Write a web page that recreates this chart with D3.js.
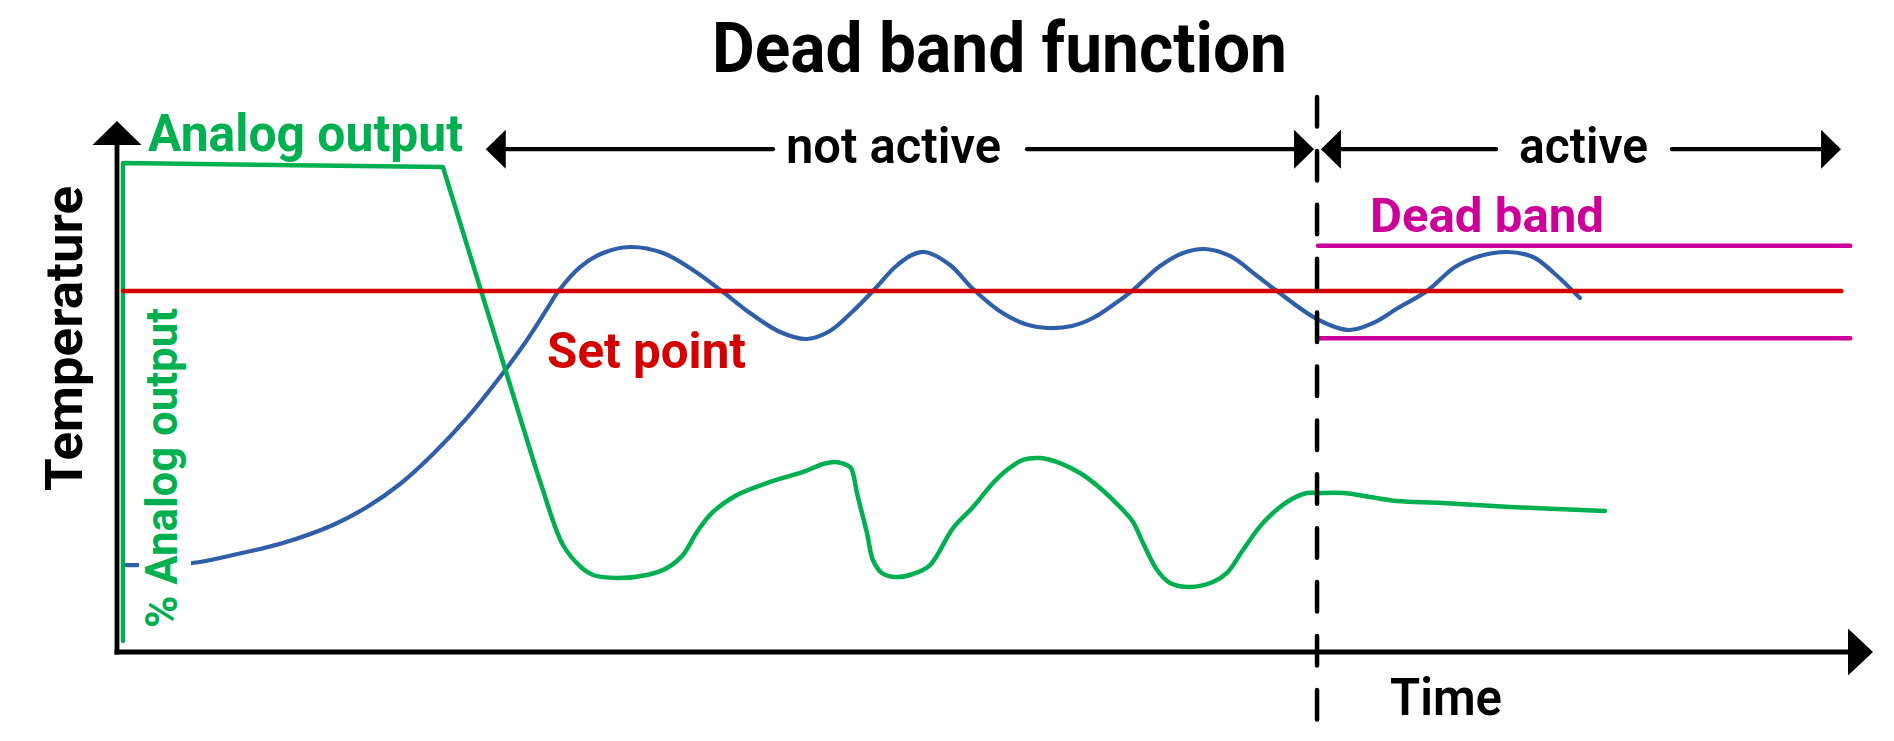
<!DOCTYPE html>
<html><head><meta charset="utf-8">
<script src="https://cdn.jsdelivr.net/npm/d3@7"></script>
<style>html,body{margin:0;padding:0;background:#fff;} svg{display:block;}</style>
</head><body><svg id="chart" width="1894" height="741"></svg>
<script>
// ---------- data ----------
const titleText = "Dead band function";
const xAxisLabel = "Time";
const yAxisLabel = "Temperature";
const outputAxisLabel = "% Analog output";
const outputLabel = "Analog output";
const setPointLabel = "Set point";
const deadBandLabel = "Dead band";

const phaseLabels = ["not active", "active"];
const phaseStart = [21.0, 68.56];
const phaseEnd = [68.17, 98.18];
const phaseLevel = 94.7;
const switchTime = 68.34;

const setPoint = 68.0;
const setPointRange = [0.34, 98.2];
const deadBand = [76.5, 59.1];
const deadBandRange = [68.4, 98.7];

const tempTime = [0.34, 4.27, 6.61, 9.45, 12.30, 14.24, 16.12, 18.00, 19.93, 21.81, 23.35, 24.49, 25.06, 26.37, 27.68, 29.21, 31.09, 32.80, 34.51, 36.05, 37.76, 39.29, 40.60, 41.86, 43.05, 44.31, 45.27, 46.01, 47.44, 48.69, 50.34, 51.71, 53.02, 54.38, 55.58, 56.72, 57.86, 59.40, 60.71, 61.96, 63.38, 64.86, 66.06, 68.34, 70.16, 71.53, 72.95, 74.60, 76.20, 77.62, 79.16, 80.64, 81.83, 83.31];
const tempValue = [16.38, 16.76, 18.27, 20.53, 23.92, 27.31, 31.64, 37.29, 44.07, 51.79, 58.76, 64.60, 67.61, 72.50, 75.14, 76.27, 75.14, 71.94, 67.80, 63.84, 60.26, 58.95, 60.45, 64.03, 67.98, 72.50, 74.76, 75.33, 72.88, 68.55, 64.03, 61.77, 61.02, 61.39, 62.90, 65.35, 68.17, 72.69, 75.14, 75.89, 74.58, 71.00, 67.98, 62.71, 60.64, 61.96, 64.78, 67.98, 72.50, 74.58, 75.33, 74.39, 71.38, 66.67];

const outTime = [0.34, 0.34, 18.56, 23.35, 24.20, 25.40, 26.48, 27.11, 28.47, 30.18, 31.32, 32.23, 33.03, 33.94, 35.31, 37.19, 39.07, 40.21, 40.89, 41.74, 41.91, 42.14, 42.71, 43.05, 43.56, 44.31, 45.33, 46.30, 47.61, 48.75, 49.89, 50.68, 51.59, 52.56, 53.70, 54.84, 55.98, 57.12, 57.86, 58.43, 59.23, 59.97, 61.10, 62.41, 63.21, 64.12, 65.26, 66.63, 67.77, 68.34, 69.82, 71.36, 72.89, 75.51, 79.33, 84.74];
const outValue = [2.07, 92.09, 91.34, 39.92, 31.07, 20.15, 15.82, 14.50, 13.94, 14.50, 15.82, 18.27, 22.60, 26.37, 29.57, 32.02, 33.90, 35.40, 35.78, 34.84, 33.71, 29.94, 22.41, 17.33, 14.88, 14.12, 14.69, 16.38, 23.35, 27.31, 31.83, 34.27, 36.16, 36.53, 35.59, 33.71, 30.89, 27.31, 24.48, 20.53, 15.44, 12.99, 12.24, 13.18, 14.88, 19.21, 24.29, 28.25, 29.94, 29.94, 29.94, 29.19, 28.44, 28.06, 27.31, 26.55];

// ---------- layout ----------
const W = 1894, H = 741;
const C = {green: "#00b050", blue: "#2e5fa8", red: "#d40000", magenta: "#cc0099", black: "#000"};
const FONT = "Roboto, 'DejaVu Sans', sans-serif";

const svg = d3.select("#chart");
const x = d3.scaleLinear().domain([0, 100]).range([117, 1873]);
const y = d3.scaleLinear().domain([0, 100]).range([652, 121]);

const temp = tempTime.map((t, i) => [t, tempValue[i]]);
const out = outTime.map((t, i) => [t, outValue[i]]);

// ---------- series ----------
const smooth = d3.line().x(d => x(d[0])).y(d => y(d[1])).curve(d3.curveCatmullRom.alpha(0.5));
const straight = d3.line().x(d => x(d[0])).y(d => y(d[1]));

svg.append("path").attr("d", smooth(temp))
  .attr("fill", "none").attr("stroke", C.blue).attr("stroke-width", 4.2)
  .attr("stroke-linecap", "round").attr("stroke-linejoin", "round");

svg.append("path").attr("d", straight(out.slice(0, 4)) + smooth(out.slice(3)).replace(/^M/, "L"))
  .attr("fill", "none").attr("stroke", C.green).attr("stroke-width", 4.5)
  .attr("stroke-linecap", "round").attr("stroke-linejoin", "round");

// set point
svg.append("line")
  .attr("x1", x(setPointRange[0])).attr("x2", x(setPointRange[1]))
  .attr("y1", y(setPoint)).attr("y2", y(setPoint))
  .attr("stroke", C.red).attr("stroke-width", 4.5).attr("stroke-linecap", "round");

// dead band
svg.selectAll(".db").data(deadBand).enter().append("line")
  .attr("x1", x(deadBandRange[0])).attr("x2", x(deadBandRange[1]))
  .attr("y1", d => y(d)).attr("y2", d => y(d))
  .attr("stroke", C.magenta).attr("stroke-width", 4.5).attr("stroke-linecap", "round");

// ---------- axes ----------
const xAxisScale = d3.scaleLinear().domain([0, 100]).range([x(0) - 2, x(100) - 20]);
const yAxisScale = d3.scaleLinear().domain([0, 100]).range([y(0), y(100) + 20]);
const gx = svg.append("g").attr("transform", `translate(0,${y(0)})`)
  .call(d3.axisBottom(xAxisScale).tickValues([]).tickSizeOuter(0));
const gy = svg.append("g").attr("transform", `translate(${x(0)},0)`)
  .call(d3.axisLeft(yAxisScale).tickValues([]).tickSizeOuter(0));
[gx, gy].forEach(g => g.select(".domain").attr("stroke", C.black).attr("stroke-width", 4.8).attr("stroke-linecap", "butt"));
gx.select(".domain").attr("d", `M${x(0) - 2.4},0H${x(100) - 20}`);
gy.select(".domain").attr("d", `M0,${y(0) + 2.4}V${y(100) + 20}`);

// axis arrowheads
svg.append("path").attr("fill", C.black)
  .attr("d", `M${x(100)},${y(0)}L${x(100) - 25},${y(0) - 23.5}L${x(100) - 25},${y(0) + 23.5}Z`);
svg.append("path").attr("fill", C.black)
  .attr("d", `M${x(0)},${y(100)}L${x(0) - 24.5},${y(100) + 24}L${x(0) + 24.5},${y(100) + 24}Z`);

// ---------- switch line ----------
svg.append("line")
  .attr("x1", x(switchTime)).attr("x2", x(switchTime))
  .attr("y1", 97).attr("y2", H + 10)
  .attr("stroke", C.black).attr("stroke-width", 4.5)
  .attr("stroke-dasharray", "29.5 24.4").attr("stroke-linecap", "round");

// ---------- phase arrows ----------
const phaseTextX = [786, 1519];
const phaseTextW = [215, 129];
const gapL = [773, 1496];
const gapR = [1027, 1672];
const head = 20, half = 19.5;
phaseLabels.forEach((lab, i) => {
  const yy = y(phaseLevel);
  const a = x(phaseStart[i]), b = x(phaseEnd[i]);
  svg.append("line").attr("x1", a + head - 2).attr("x2", gapL[i]).attr("y1", yy).attr("y2", yy)
    .attr("stroke", C.black).attr("stroke-width", 4.2).attr("stroke-linecap", "round");
  svg.append("line").attr("x1", gapR[i]).attr("x2", b - head + 2).attr("y1", yy).attr("y2", yy)
    .attr("stroke", C.black).attr("stroke-width", 4.2).attr("stroke-linecap", "round");
  svg.append("path").attr("fill", C.black)
    .attr("d", `M${a},${yy}L${a + head},${yy - half}L${a + head},${yy + half}Z`);
  svg.append("path").attr("fill", C.black)
    .attr("d", `M${b},${yy}L${b - head},${yy - half}L${b - head},${yy + half}Z`);
  svg.append("text").attr("x", phaseTextX[i]).attr("y", 163)
    .attr("font-family", FONT).attr("font-weight", 600).attr("font-size", 50)
    .attr("textLength", phaseTextW[i]).attr("lengthAdjust", "spacingAndGlyphs")
    .attr("fill", C.black).text(lab);
});

// ---------- labels ----------
function label(txt, px, py, size, w, color, weight, rot) {
  const t = svg.append("text")
    .attr("font-family", FONT).attr("font-weight", weight || 700).attr("font-size", size)
    .attr("textLength", w).attr("lengthAdjust", "spacingAndGlyphs")
    .attr("fill", color).text(txt);
  if (rot) t.attr("transform", `translate(${px},${py}) rotate(-90)`);
  else t.attr("x", px).attr("y", py);
  return t;
}

// white box behind the % Analog output label
svg.append("rect").attr("x", 139).attr("y", 300).attr("width", 52).attr("height", 336).attr("fill", "#fff");

label(titleText, 712, 72, 70, 575, C.black, 700);
label(outputLabel, 148, 151, 52, 315, C.green, 700);
label(setPointLabel, 547, 368, 50, 199, C.red, 700);
label(deadBandLabel, 1370, 232, 49, 234, C.magenta, 700);
label(xAxisLabel, 1390, 715, 52, 112, C.black, 600);
label(yAxisLabel, 82, 491, 52, 305, C.black, 700, true);
label(outputAxisLabel, 177, 628, 45, 320, C.green, 700, true);
</script>
</body></html>
